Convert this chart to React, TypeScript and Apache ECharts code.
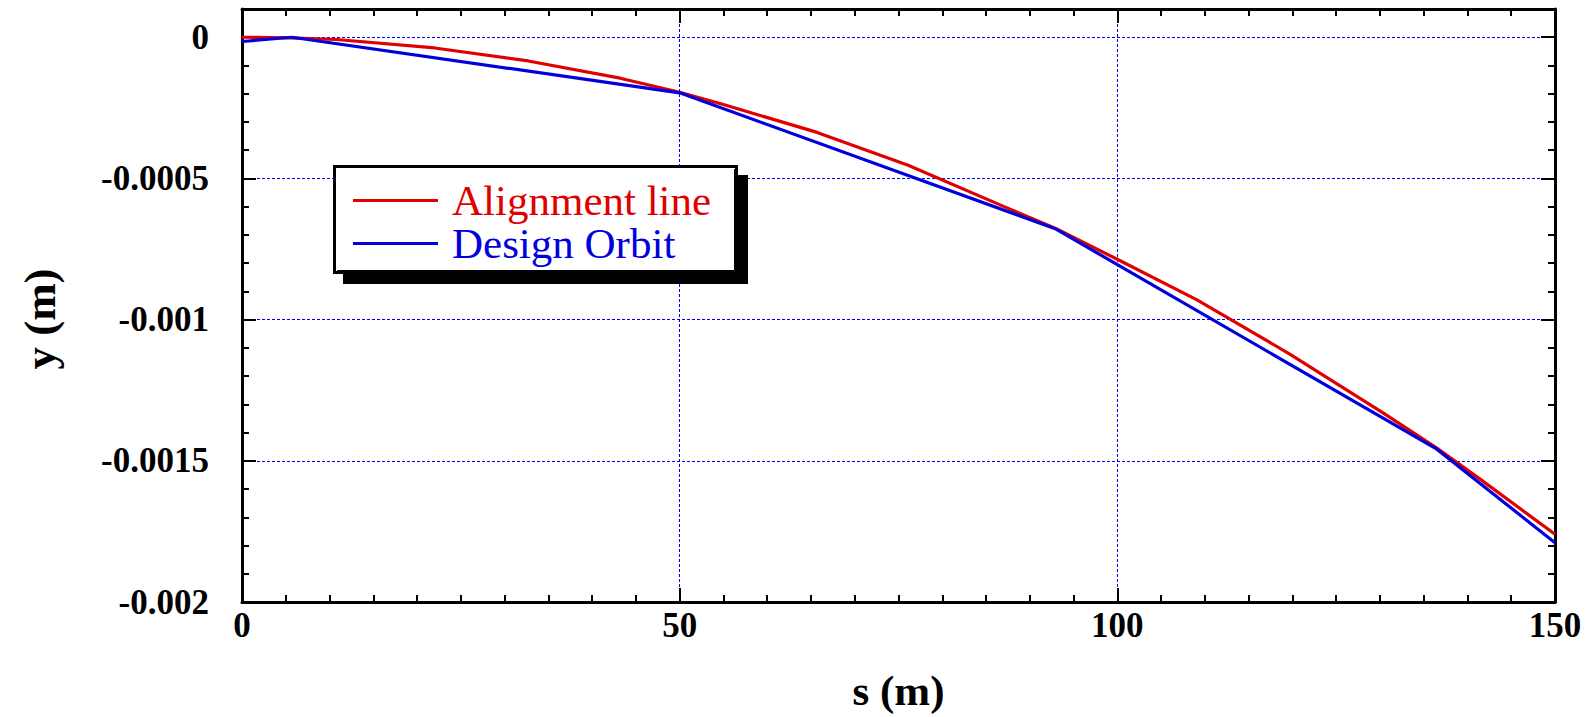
import React, { useEffect, useRef } from "react";
import * as echarts from "echarts";

const sAlignment = [0, 5.5, 10.8, 22, 32.7, 43.2, 50, 55, 65.7, 76.1, 87, 92.9, 100.1, 109.1, 119.7, 130.4, 136.5, 141.4, 150];
const yAlignment = [0, -0.000002, -0.000008, -0.000038, -0.000084, -0.000145, -0.000195, -0.000238, -0.000337, -0.000453, -0.000599, -0.000676, -0.000788, -0.00093, -0.001122, -0.001331, -0.001455, -0.001564, -0.00176];

const sOrbit = [0, 5.7, 50, 92.9, 136.5, 150];
const yOrbit = [-0.000015, 0, -0.000197, -0.000678, -0.001459, -0.00179];

const seriesNames = ["Alignment line", "Design Orbit"];
const seriesColors = ["#e10000", "#0000dd"];

const X_MIN = 0;
const X_MAX = 150;
const X_INTERVAL = 50;
const Y_MIN = -0.002;
const Y_MAX = 0.0001;
const Y_INTERVAL = 0.0005;
const Y_MINOR = 0.0001;

const FONT = '"Liberation Serif", "Times New Roman", serif';

export default function App() {
  const ref = useRef<HTMLDivElement>(null);
  useEffect(() => {
    document.body.style.margin = "0";
    if (!ref.current) return;
    const chart = echarts.init(ref.current, undefined, { renderer: "svg" });

    const axisLine = { show: true, onZero: false, lineStyle: { color: "#000", width: 3 } };
    const noLine = { show: false, onZero: false };
    const majorTick = { show: true, inside: true, length: 14, lineStyle: { color: "#000", width: 2 } };
    const minorTickY = { show: true, inside: true, length: 7, lineStyle: { color: "#000", width: 2 } };
    const gridLine = { show: true, lineStyle: { color: "#0000ff", width: 1, type: [3, 2] as any } };
    const labelStyle = { fontFamily: FONT, fontWeight: "bold" as const, fontSize: 35, color: "#000" };

    const fmtY = (v: number) => {
      if (Math.abs(v - Y_MAX) < 1e-9) return "";
      return String(parseFloat(v.toFixed(6)));
    };

    const option: any = {
      animation: false,
      backgroundColor: "#fff",
      grid: { left: 242, right: 38, top: 9, bottom: 106, containLabel: false },
      xAxis: [
        {
          type: "value",
          position: "bottom",
          min: X_MIN,
          max: X_MAX,
          interval: X_INTERVAL,
          axisLine,
          axisTick: majorTick,
          minorTick: { show: true, splitNumber: 10, length: 7, lineStyle: { color: "#000", width: 2 } },
          axisLabel: { ...labelStyle, margin: 6 },
          splitLine: gridLine,
          name: "s (m)",
          nameLocation: "middle",
          nameGap: 67,
          nameTextStyle: { fontFamily: FONT, fontWeight: "bold", fontSize: 43, color: "#000" },
        },
        {
          type: "value",
          position: "top",
          min: X_MIN,
          max: X_MAX,
          interval: X_INTERVAL,
          axisLine,
          axisTick: majorTick,
          minorTick: { show: true, splitNumber: 10, length: 7, lineStyle: { color: "#000", width: 2 } },
          axisLabel: { show: false },
          splitLine: { show: false },
        },
      ],
      yAxis: [
        {
          type: "value",
          position: "left",
          min: Y_MIN,
          max: Y_MAX,
          interval: Y_INTERVAL,
          axisLine,
          axisTick: majorTick,
          axisLabel: { ...labelStyle, margin: 33, formatter: fmtY, padding: [0, 0, 9, 0] },
          splitLine: gridLine,
        },
        {
          type: "value",
          position: "left",
          min: Y_MIN,
          max: Y_MAX,
          interval: Y_MINOR,
          axisLine: noLine,
          axisTick: minorTickY,
          axisLabel: { show: false },
          splitLine: { show: false },
        },
        {
          type: "value",
          position: "right",
          min: Y_MIN,
          max: Y_MAX,
          interval: Y_INTERVAL,
          axisLine,
          axisTick: majorTick,
          axisLabel: { show: false },
          splitLine: { show: false },
        },
        {
          type: "value",
          position: "right",
          min: Y_MIN,
          max: Y_MAX,
          interval: Y_MINOR,
          axisLine: noLine,
          axisTick: minorTickY,
          axisLabel: { show: false },
          splitLine: { show: false },
        },
      ],
      legend: {
        show: true,
        orient: "vertical",
        left: 333,
        top: 165,
        padding: [14, 30, 16, 20],
        icon: "rect",
        itemWidth: 85,
        itemHeight: 3,
        itemGap: 0,
        selectedMode: false,
        z: 20,
        textStyle: { fontFamily: FONT, fontSize: 43, lineHeight: 39, padding: [0, 0, 0, 9] },
        data: [
          { name: seriesNames[0], itemStyle: { color: seriesColors[0] }, textStyle: { color: seriesColors[0] } },
          { name: seriesNames[1], itemStyle: { color: seriesColors[1] }, textStyle: { color: seriesColors[1] } },
        ],
      },
      graphic: [
        {
          type: "rect",
          z: 15,
          shape: { x: 343, y: 175, width: 405, height: 109 },
          style: { fill: "#000" },
        },
        {
          type: "rect",
          z: 16,
          shape: { x: 334.5, y: 166.5, width: 402, height: 106 },
          style: { fill: "#fff", stroke: "#000", lineWidth: 3 },
        },
        {
          type: "polyline",
          z: 17,
          shape: { points: [[337, 270.5], [734.5, 270.5], [734.5, 169]] },
          style: { stroke: "#000", lineWidth: 1, fill: null },
        },
        {
          type: "text",
          x: 40,
          y: 319,
          rotation: Math.PI / 2,
          style: {
            text: "y (m)",
            font: `bold 45px ${FONT}`,
            fill: "#000",
            align: "center",
            verticalAlign: "middle",
          },
        },
      ],
      series: [
        {
          name: seriesNames[0],
          type: "line",
          xAxisIndex: 0,
          yAxisIndex: 0,
          data: sAlignment.map((s, i) => [s, yAlignment[i]]),
          symbol: "none",
          showSymbol: false,
          lineStyle: { color: seriesColors[0], width: 3.2 },
          itemStyle: { color: seriesColors[0] },
          z: 3,
        },
        {
          name: seriesNames[1],
          type: "line",
          xAxisIndex: 0,
          yAxisIndex: 0,
          data: sOrbit.map((s, i) => [s, yOrbit[i]]),
          symbol: "none",
          showSymbol: false,
          lineStyle: { color: seriesColors[1], width: 3.2 },
          itemStyle: { color: seriesColors[1] },
          z: 4,
        },
      ],
    };
    chart.setOption(option);
    return () => chart.dispose();
  }, []);
  return <div ref={ref} style={{ width: 1593, height: 717 }} />;
}
